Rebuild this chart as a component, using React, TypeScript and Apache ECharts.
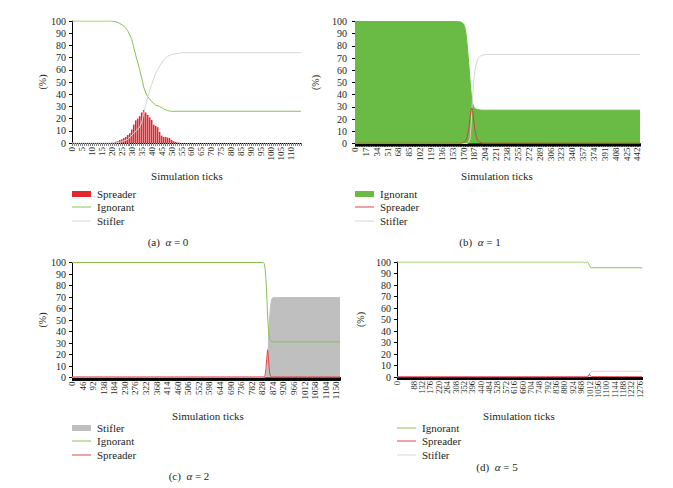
import React, { useEffect, useRef } from "react";
import * as echarts from "echarts";

// ---------- data (tick, percent) ----------
const spreaderA: [number, number][] = [[20,0.3],[21,0.5],[22,1],[23,1.5],[24,2.5],[25,3],[26,4],[27,5],[28,6.5],[29,8],[30,11],[31,15],[32,18.5],[33,20],[34,22],[35,25],[36,27],[37,25],[38,23],[39,21],[40,19],[41,15],[42,14],[43,13],[44,9],[45,6],[46,5],[47,5],[48,4.5],[49,4],[50,2.5],[51,1.5],[52,0.8],[53,0.4],[54,0.2]];
const ignorantA: [number, number][] = [[0,100],[20,100],[22,99.5],[24,98],[26,96],[28,92],[30,85],[32,72],[34,60],[35,53],[36,46],[37,41],[38,38],[40,34],[42,31],[44,30],[46,28],[48,26.5],[50,26],[115,26]];
const stiflerA: [number, number][] = [[0,0],[22,0],[25,1],[28,3],[31,8],[34,13],[35,17],[36,24],[37,31],[38,38],[40,48],[42,57],[44,63],[46,68],[48,71],[50,72.5],[53,73.5],[56,74],[115,74]];

const ignorantB: [number, number][] = [[0,100],[160,100],[166,99.5],[170,98],[172,95],[174,89],[176,78],[178,66],[180,52],[182,40],[184,33],[186,30],[188,28.5],[192,27.8],[198,27.3],[446,27.3]];
const spreaderB: [number, number][] = [[0,0.2],[166,0.2],[170,0.8],[173,2],[176,6],[178,12],[180,21],[182,28.5],[183,29],[184,27],[186,18],[188,10],[190,5],[192,2.5],[195,1],[200,0.3],[446,0.2]];
const stiflerB: [number, number][] = [[0,0],[176,0],[178,1],[180,4],[182,18],[184,38],[186,52],[188,61],[190,66],[193,70],[196,71.5],[200,72.5],[206,73],[446,73]];

const stiflerC: [number, number][] = [[0,0],[838,0],[842,1],[846,4],[850,12],[854,28],[858,46],[862,58],[866,65],[870,68.5],[876,69.5],[1166,69.5]];
const ignorantC: [number, number][] = [[0,100],[832,100],[836,99],[840,95],[844,85],[848,68],[852,50],[856,38],[860,33],[864,31.5],[870,31],[1166,31]];
const spreaderC: [number, number][] = [[0,0.5],[836,0.5],[840,2],[844,8],[848,18],[851,24],[854,19],[857,10],[860,4],[864,1],[868,0.5],[1166,0.5]];

const ignorantD: [number, number][] = [[0,100],[1001,100],[1006,99],[1012,97],[1018,95.3],[1024,95],[1288,95]];
const spreaderD: [number, number][] = [[0,0.2],[1002,0.2],[1008,2],[1012,2.5],[1016,1],[1022,0.3],[1288,0.2]];
const stiflerD: [number, number][] = [[0,0],[1003,0],[1008,1],[1014,3],[1020,4.6],[1026,5],[1288,5]];

// x-axis extents and label steps (tick labels: 0,5,..110 / 0,17,..442 / 0,46,..1150 / 0,44,..1276)
const xMax = [115, 446, 1166, 1288];
const xStep = [5, 17, 46, 44];

const FONT = "Liberation Serif, DejaVu Serif, serif";
const TXT = "#231f20";
const GREEN_LINE = "#8cc152";
const GREEN_FILL = "#6abb45";
const RED = "#e3262e";
const RED_LINE = "#e0474c";
const STIF_LINE = "#d6d6d6";
const GREY_FILL = "#bfbfbf";

const grids = [
  { left: 72, top: 21, width: 229, height: 122 },
  { left: 355, top: 21.5, width: 285, height: 122 },
  { left: 72, top: 262.5, width: 268, height: 115 },
  { left: 397, top: 262, width: 245, height: 115 },
];

const nameGaps = [17, 35, 25, 32];
const yMargins = [6, 8, 6, 6];

function xAxisFor(i: number) {
  const dense = i > 0;
  const tight = i === 3;
  return {
    type: "value",
    gridIndex: i,
    min: 0,
    max: xMax[i],
    interval: xStep[i],
    splitLine: { show: false },
    axisLine: { show: true, onZero: false, lineStyle: { color: "#000", width: 1 } },
    axisTick: { show: true, length: 3, lineStyle: { color: dense ? "#000" : "#777" } },
    minorTick: { show: true, splitNumber: xStep[i], length: 3, lineStyle: { color: dense ? "#000" : "#888", width: 1 } },
    axisLabel: {
      rotate: 90,
      fontSize: tight ? 8.5 : 9,
      lineHeight: tight ? 5 : 7,
      fontFamily: FONT,
      color: TXT,
      margin: 4,
      showMaxLabel: false,
      showMinLabel: true,
      hideOverlap: false,
      formatter: (v: number) => String(v),
    },
  };
}

function yAxisFor(i: number) {
  return {
    type: "value",
    gridIndex: i,
    min: 0,
    max: 100,
    interval: 10,
    name: "(%)",
    nameLocation: "middle",
    nameRotate: 90,
    nameGap: nameGaps[i],
    nameTextStyle: { fontSize: 10, fontFamily: FONT, color: TXT },
    splitLine: { show: false },
    axisLine: { show: true, lineStyle: { color: "#000", width: 1 } },
    axisTick: { show: true, length: 3, lineStyle: { color: "#000" } },
    axisLabel: { fontSize: 10, fontFamily: FONT, color: TXT, margin: yMargins[i] },
  };
}

function line(name: string, idx: number, data: [number, number][], color: string, area?: string) {
  const s: any = {
    type: "line",
    name,
    xAxisIndex: idx,
    yAxisIndex: idx,
    data,
    symbol: "none",
    lineStyle: { color, width: 1 },
    itemStyle: { color },
  };
  if (area) s.areaStyle = { color: area, opacity: 1 };
  return s;
}

type LegendItem = { label: string; color: string; kind: "rect" | "line" };

function legendGraphics(x: number, ys: number[], items: LegendItem[]) {
  const out: any[] = [];
  items.forEach((it, k) => {
    const y = ys[k];
    if (it.kind === "rect") {
      out.push({ type: "rect", shape: { x, y: y - 3, width: 19, height: 6 }, style: { fill: it.color } });
    } else {
      out.push({ type: "line", shape: { x1: x, y1: y, x2: x + 19, y2: y }, style: { stroke: it.color, lineWidth: 1 } });
    }
    out.push({
      type: "text",
      x: x + 25,
      y,
      style: { text: it.label, fontSize: 11, fontFamily: FONT, fill: TXT, verticalAlign: "middle", align: "left" },
    });
  });
  return out;
}

function centerText(text: string, x: number, y: number) {
  return {
    type: "text",
    x,
    y,
    style: { text, fontSize: 11, fontFamily: FONT, fill: TXT, align: "center", verticalAlign: "middle" },
  };
}

function caption(letter: string, val: string, x: number, y: number) {
  return {
    type: "text",
    x,
    y,
    style: {
      text: `(${letter})  {i|α} = ${val}`,
      rich: { i: { fontStyle: "italic", fontSize: 11, fontFamily: FONT, fill: TXT } },
      fontSize: 11,
      fontFamily: FONT,
      fill: TXT,
      align: "center",
      verticalAlign: "middle",
    },
  };
}

export default function App() {
  const ref = useRef<HTMLDivElement>(null);
  useEffect(() => {
    document.body.style.margin = "0";
    if (!ref.current) return;
    const chart = echarts.init(ref.current, undefined, { renderer: "svg" });
    const option: any = {
      animation: false,
      backgroundColor: "#fff",
      grid: grids.map((g) => ({ ...g, containLabel: false })),
      xAxis: [0, 1, 2, 3].map(xAxisFor),
      yAxis: [0, 1, 2, 3].map(yAxisFor),
      series: [
        {
          type: "bar",
          name: "Spreader",
          xAxisIndex: 0,
          yAxisIndex: 0,
          data: spreaderA,
          barWidth: 1.6,
          itemStyle: { color: RED },
        },
        line("Ignorant", 0, ignorantA, GREEN_LINE),
        line("Stifler", 0, stiflerA, STIF_LINE),

        line("Ignorant", 1, ignorantB, GREEN_FILL, GREEN_FILL),
        line("Stifler", 1, stiflerB, STIF_LINE),
        line("Spreader", 1, spreaderB, "#c0502e"),

        line("Stifler", 2, stiflerC, GREY_FILL, GREY_FILL),
        line("Ignorant", 2, ignorantC, GREEN_LINE),
        line("Spreader", 2, spreaderC, RED_LINE),

        line("Ignorant", 3, ignorantD, GREEN_LINE),
        line("Stifler", 3, stiflerD, STIF_LINE),
        line("Spreader", 3, spreaderD, RED_LINE),
      ],
      graphic: [
        centerText("Simulation ticks", 187, 176),
        centerText("Simulation ticks", 497, 176),
        centerText("Simulation ticks", 208, 416),
        centerText("Simulation ticks", 519, 416),
        ...legendGraphics(72, [194, 207, 221], [
          { label: "Spreader", color: RED, kind: "rect" },
          { label: "Ignorant", color: GREEN_LINE, kind: "line" },
          { label: "Stifler", color: STIF_LINE, kind: "line" },
        ]),
        ...legendGraphics(355, [194, 207, 221], [
          { label: "Ignorant", color: GREEN_FILL, kind: "rect" },
          { label: "Spreader", color: RED_LINE, kind: "line" },
          { label: "Stifler", color: STIF_LINE, kind: "line" },
        ]),
        ...legendGraphics(72, [428, 441, 455], [
          { label: "Stifler", color: GREY_FILL, kind: "rect" },
          { label: "Ignorant", color: GREEN_LINE, kind: "line" },
          { label: "Spreader", color: RED_LINE, kind: "line" },
        ]),
        ...legendGraphics(397, [428, 441, 455], [
          { label: "Ignorant", color: GREEN_LINE, kind: "line" },
          { label: "Spreader", color: RED_LINE, kind: "line" },
          { label: "Stifler", color: STIF_LINE, kind: "line" },
        ]),
        caption("a", "0", 168, 242),
        caption("b", "1", 480, 242),
        caption("c", "2", 189, 476),
        caption("d", "5", 497, 467),
      ],
    };
    chart.setOption(option);
    return () => chart.dispose();
  }, []);
  return <div ref={ref} style={{ width: 673, height: 488 }} />;
}
